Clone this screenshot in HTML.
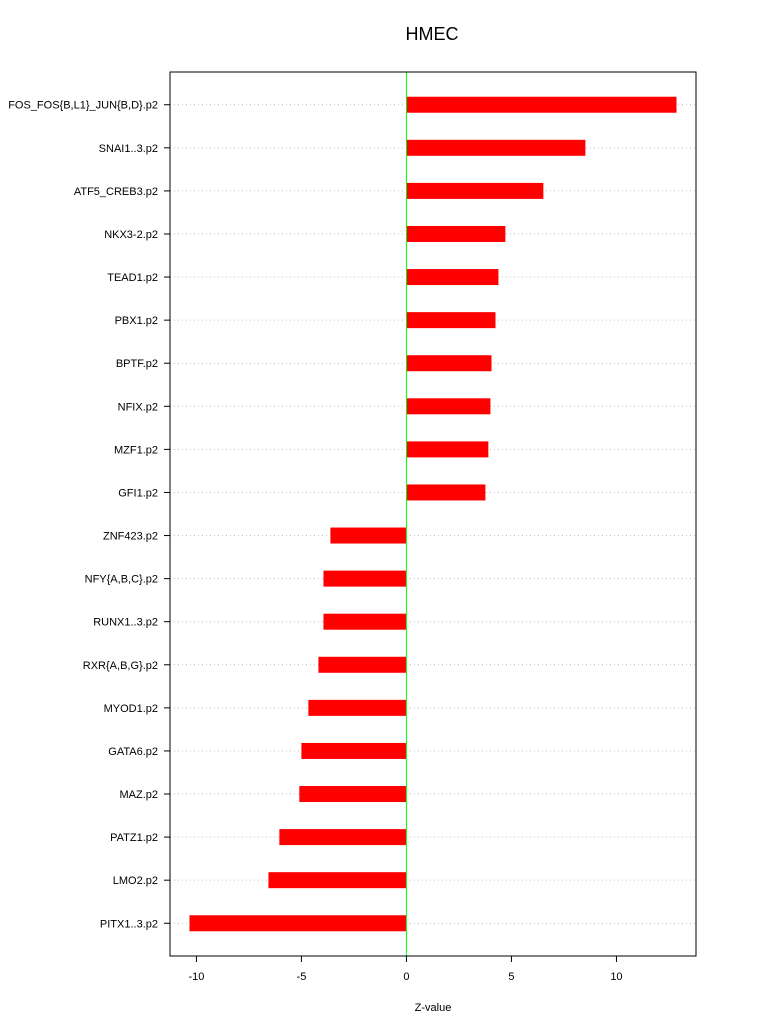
<!DOCTYPE html>
<html><head><meta charset="utf-8"><style>body{margin:0;background:#fff}svg{display:block;font-family:"Liberation Sans",sans-serif}</style></head>
<body>
<svg id="chart" width="768" height="1028"></svg>
<script>
const categories = ["FOS_FOS{B,L1}_JUN{B,D}.p2","SNAI1..3.p2","ATF5_CREB3.p2","NKX3-2.p2","TEAD1.p2","PBX1.p2","BPTF.p2","NFIX.p2","MZF1.p2","GFI1.p2","ZNF423.p2","NFY{A,B,C}.p2","RUNX1..3.p2","RXR{A,B,G}.p2","MYOD1.p2","GATA6.p2","MAZ.p2","PATZ1.p2","LMO2.p2","PITX1..3.p2"];
const zValues = [12.86,8.52,6.52,4.71,4.38,4.24,4.05,4.0,3.9,3.76,-3.62,-3.95,-3.95,-4.19,-4.67,-5.0,-5.1,-6.05,-6.57,-10.33];
const xTicks = [-10,-5,0,5,10];
const NS="http://www.w3.org/2000/svg";
const svg=document.getElementById('chart');
const L=170,R=696,T=72,B=956;
const n=categories.length;
const xmin=Math.min(...zValues),xmax=Math.max(...zValues),xp=(xmax-xmin)*0.04;
const x0=xmin-xp,x1=xmax+xp;
const X=v=>L+(v-x0)/(x1-x0)*(R-L);
const Y=i=>{const k=i+1,lo=1-(n-1)*0.04,hi=n+(n-1)*0.04;return T+(k-lo)/(hi-lo)*(B-T);};
function el(t,a,txt){const e=document.createElementNS(NS,t);for(const k in a)e.setAttribute(k,a[k]);if(txt!==undefined)e.textContent=txt;svg.appendChild(e);return e;}
let e;
e=el('text',{x:432,y:40,'text-anchor':'middle','font-size':18},'HMEC');


categories.forEach((c,i)=>{
  const y=Y(i);
  e=el('line',{x1:L,x2:R,y1:y,y2:y,stroke:'#bbb','stroke-dasharray':'1,3'});
  
  
  const v=zValues[i];
  e=el('rect',{x:Math.min(X(0),X(v)),y:y-8,width:Math.abs(X(v)-X(0)),height:16,fill:'#ff0000'});
  
  
  e=el('line',{x1:L-6,x2:L,y1:y,y2:y,stroke:'#000'});
  
  
  e=el('text',{x:L-12,y:y+4,'text-anchor':'end','font-size':11},c);
  
  
});
e=el('line',{x1:X(0),x2:X(0),y1:T,y2:B,stroke:'#00ff00'});


e=el('rect',{x:L,y:T,width:R-L,height:B-T,fill:'none',stroke:'#000'});


xTicks.forEach(t=>{
  e=el('line',{x1:X(t),x2:X(t),y1:B,y2:B+6,stroke:'#000'});
  
  
  e=el('text',{x:X(t),y:B+24,'text-anchor':'middle','font-size':11},String(t));
  
  
});
e=el('line',{x1:X(xTicks[0]),x2:X(xTicks[xTicks.length-1]),y1:B,y2:B,stroke:'#000'});


e=el('text',{x:(L+R)/2,y:1011,'text-anchor':'middle','font-size':11},'Z-value');


</script>
</body></html>
